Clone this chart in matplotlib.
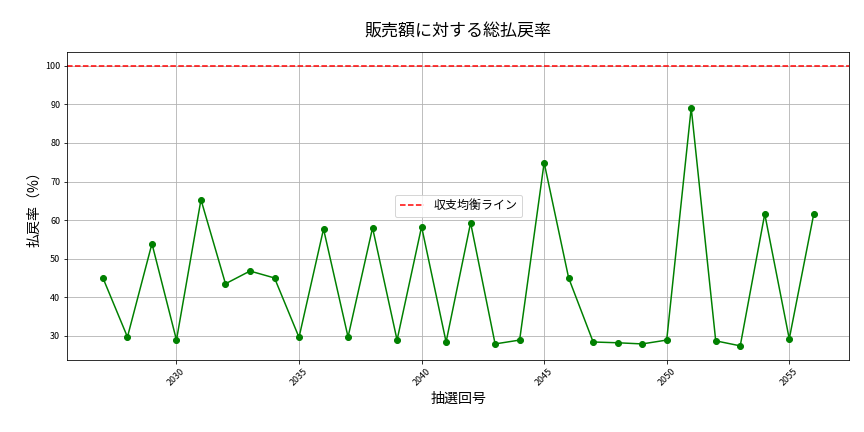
import matplotlib
matplotlib.use("Agg")
import matplotlib.pyplot as plt

plt.rcParams['font.family'] = ['Noto Sans CJK JP', 'DejaVu Sans']

draws = list(range(2027, 2057))
rates = [45.0, 29.7, 53.9, 28.9, 65.3, 43.5, 46.8, 45.0, 29.6, 57.7,
         29.7, 58.0, 28.9, 58.3, 28.4, 59.3, 27.9, 28.9, 74.9, 45.0,
         28.4, 28.2, 27.9, 28.9, 89.1, 28.7, 27.4, 61.6, 29.2, 61.6]
breakeven = 100

fig, ax = plt.subplots(figsize=(12, 6), dpi=72)
ax.plot(draws, rates, color='green', marker='o', markersize=6, linewidth=1.5)
ax.axhline(breakeven, color='red', linestyle='--', linewidth=1.5, label='収支均衡ライン')
ax.set_title('販売額に対する総払戻率', fontsize=17, pad=15)
ax.set_xlabel('抽選回号', fontsize=14)
ax.set_ylabel('払戻率（%）', fontsize=14)
ax.grid(True)
ax.tick_params(axis='x', labelrotation=45, labelsize=9)
ax.tick_params(axis='y', labelsize=9)
ax.legend(loc='center', fontsize=12)
fig.subplots_adjust(left=0.078, right=0.983, top=0.88, bottom=0.167)
fig.savefig('out.png', dpi=72)
